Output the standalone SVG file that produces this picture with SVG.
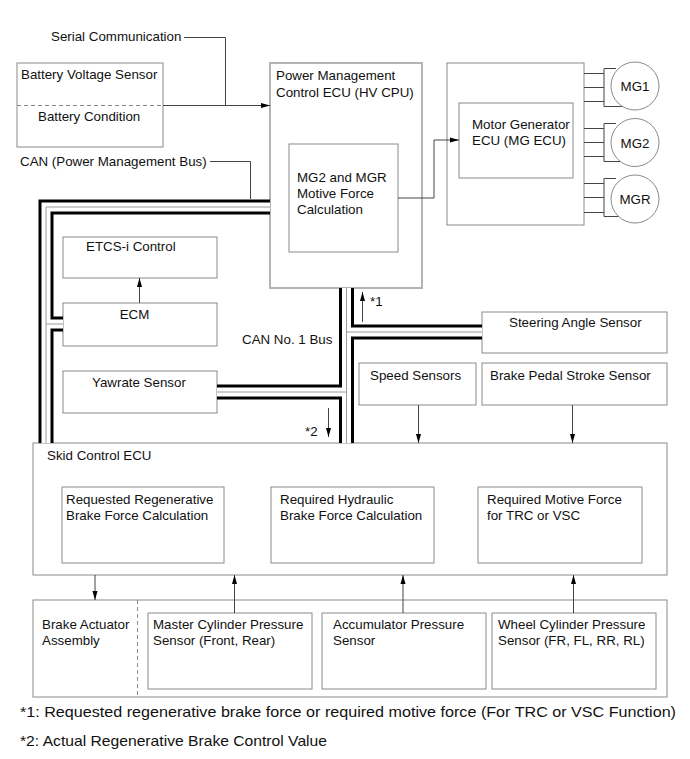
<svg xmlns="http://www.w3.org/2000/svg" width="690" height="759" viewBox="0 0 690 759">
<style>
text{font-family:"Liberation Sans",Arial,sans-serif;font-size:13.33px;fill:#111}
.box{fill:#fff;stroke:#8a8a8a;stroke-width:1}
.pm{fill:#fff;stroke:#b4b4b4;stroke-width:2}
.ln{fill:none;stroke:#444;stroke-width:1}
.arr{fill:none;stroke:#444;stroke-width:1;marker-end:url(#ah)}
.busB{fill:none;stroke:#000;stroke-width:15;stroke-linejoin:miter}
.busW{fill:none;stroke:#fff;stroke-width:9;stroke-linejoin:miter}
.busG{fill:none;stroke:#9a9a9a;stroke-width:1}
.foot{font-size:15px}
.mg{fill:#fff;stroke:#8a8a8a;stroke-width:1}
</style>
<defs>
<marker id="ah" markerUnits="userSpaceOnUse" markerWidth="9" markerHeight="6" refX="9" refY="3" orient="auto">
<path d="M0,0.5 L9,3 L0,5.5 z" fill="#000"/>
</marker>
<path id="bus" d="M46,443 L46,207 L270,207 M46,324 L63,324 M346.5,288 L346.5,443 M217,392 L346.5,392 M346.5,332 L482,332"/>
</defs>
<rect width="690" height="759" fill="#fff"/>

<g id="battery">
<rect class="box" x="17" y="63" width="146" height="84"/>
<line x1="17" y1="105.5" x2="163" y2="105.5" stroke="#8a8a8a" stroke-dasharray="4,3"/>
<text x="21" y="79">Battery Voltage Sensor</text>
<text x="38" y="121">Battery Condition</text>
</g>

<g id="pm-ecu">
<rect class="pm" x="270" y="63" width="152" height="225"/>
<text x="276" y="80">Power Management</text>
<text x="276" y="97">Control ECU (HV CPU)</text>
</g>
<g id="mg-calc">
<rect class="box" x="289" y="144" width="109" height="108"/>
<text x="297" y="181.5">MG2 and MGR</text>
<text x="297" y="197.5">Motive Force</text>
<text x="297" y="213.5">Calculation</text>
</g>

<g id="mg-unit">
<rect class="box" x="447" y="63" width="137" height="162"/>
</g>
<g id="mg-ecu">
<rect class="box" x="459" y="103" width="114" height="75"/>
<text x="472" y="129">Motor Generator</text>
<text x="472" y="145">ECU (MG ECU)</text>
</g>
<g id="mg1">
<path class="ln" d="M584,73.5 H604 M584,87.5 H604 M584,101.5 H604 M616,68.5 H604 V106.5 H624"/>
<circle class="mg" cx="635" cy="86" r="24"/>
<text x="635" y="91" text-anchor="middle">MG1</text>
</g>
<g id="mg2">
<path class="ln" d="M584,128.5 H604 M584,142.5 H604 M584,156.5 H604 M616,123.5 H604 V161.5 H624"/>
<circle class="mg" cx="635" cy="142.5" r="24"/>
<text x="635" y="147.5" text-anchor="middle">MG2</text>
</g>
<g id="mgr">
<path class="ln" d="M584,183.5 H604 M584,197.5 H604 M584,212.5 H604 M616,178.5 H604 V216.5 H624"/>
<circle class="mg" cx="635" cy="199" r="24"/>
<text x="635" y="204" text-anchor="middle">MGR</text>
</g>

<g id="etcs">
<rect class="box" x="63" y="237" width="154" height="41"/>
<text x="86" y="251">ETCS-i Control</text>
</g>
<g id="ecm">
<rect class="box" x="63" y="303" width="154" height="43"/>
<text x="134.5" y="319" text-anchor="middle">ECM</text>
</g>
<g id="yawrate">
<rect class="box" x="63" y="371" width="154" height="42"/>
<text x="92" y="387">Yawrate Sensor</text>
</g>
<g id="steering">
<rect class="box" x="482" y="312" width="185" height="41"/>
<text x="509" y="327">Steering Angle Sensor</text>
</g>
<g id="speed">
<rect class="box" x="359" y="363" width="117" height="42"/>
<text x="370" y="380">Speed Sensors</text>
</g>
<g id="brake-pedal">
<rect class="box" x="482" y="363" width="185" height="42"/>
<text x="490" y="380">Brake Pedal Stroke Sensor</text>
</g>

<g id="skid-ecu">
<rect class="box" x="33" y="443" width="634" height="132"/>
<text x="47" y="460">Skid Control ECU</text>
</g>
<g id="regen">
<rect class="box" x="62" y="487" width="162" height="76"/>
<text x="66" y="503.5">Requested Regenerative</text>
<text x="66" y="519.5">Brake Force Calculation</text>
</g>
<g id="hydraulic">
<rect class="box" x="271" y="487" width="163" height="76"/>
<text x="280" y="503.5">Required Hydraulic</text>
<text x="280" y="519.5">Brake Force Calculation</text>
</g>
<g id="motive">
<rect class="box" x="478" y="487" width="164" height="76"/>
<text x="487" y="503.5">Required Motive Force</text>
<text x="487" y="519.5">for TRC or VSC</text>
</g>

<g id="actuator">
<rect class="box" x="33" y="600" width="634" height="97"/>
<line x1="137.5" y1="600" x2="137.5" y2="697" stroke="#8a8a8a" stroke-dasharray="4,3"/>
<text x="42" y="629">Brake Actuator</text>
<text x="42" y="645">Assembly</text>
</g>
<g id="master">
<rect class="box" x="148" y="613" width="164" height="76"/>
<text x="153" y="629">Master Cylinder Pressure</text>
<text x="153" y="645">Sensor (Front, Rear)</text>
</g>
<g id="accumulator">
<rect class="box" x="322" y="613" width="164" height="76"/>
<text x="333" y="629">Accumulator Pressure</text>
<text x="333" y="645">Sensor</text>
</g>
<g id="wheel">
<rect class="box" x="492" y="613" width="164" height="76"/>
<text x="498" y="629">Wheel Cylinder Pressure</text>
<text x="498" y="645">Sensor (FR, FL, RR, RL)</text>
</g>

<g id="connectors">
<use href="#bus" class="busB"/>
<use href="#bus" class="busW"/>
<use href="#bus" class="busG"/>
<path class="ln" d="M184,37.5 H225.5 V105.5"/>
<path class="arr" d="M163,105.5 H270"/>
<path class="ln" d="M210,161.5 H250.5 V199"/>
<path class="arr" d="M398,198 H434 V140 H459"/>
<path class="arr" d="M139.5,303 V278"/>
<path class="arr" d="M362.5,322 V292"/>
<path class="arr" d="M328.5,408 V437"/>
<path class="arr" d="M418.5,405 V443"/>
<path class="arr" d="M572.5,405 V443"/>
<path class="arr" d="M95,575 V600"/>
<path class="arr" d="M234.5,613 V575"/>
<path class="arr" d="M403,613 V575"/>
<path class="arr" d="M573.5,613 V575"/>
</g>

<g id="labels">
<text x="51" y="41">Serial Communication</text>
<text x="20" y="166">CAN (Power Management Bus)</text>
<text x="242" y="344">CAN No. 1 Bus</text>
<text x="370" y="306">*1</text>
<text x="305" y="436">*2</text>
<text class="foot" x="20" y="717" textLength="656" lengthAdjust="spacingAndGlyphs">*1: Requested regenerative brake force or required motive force (For TRC or VSC Function)</text>
<text class="foot" x="20" y="746" textLength="307" lengthAdjust="spacingAndGlyphs">*2: Actual Regenerative Brake Control Value</text>
</g>
</svg>
